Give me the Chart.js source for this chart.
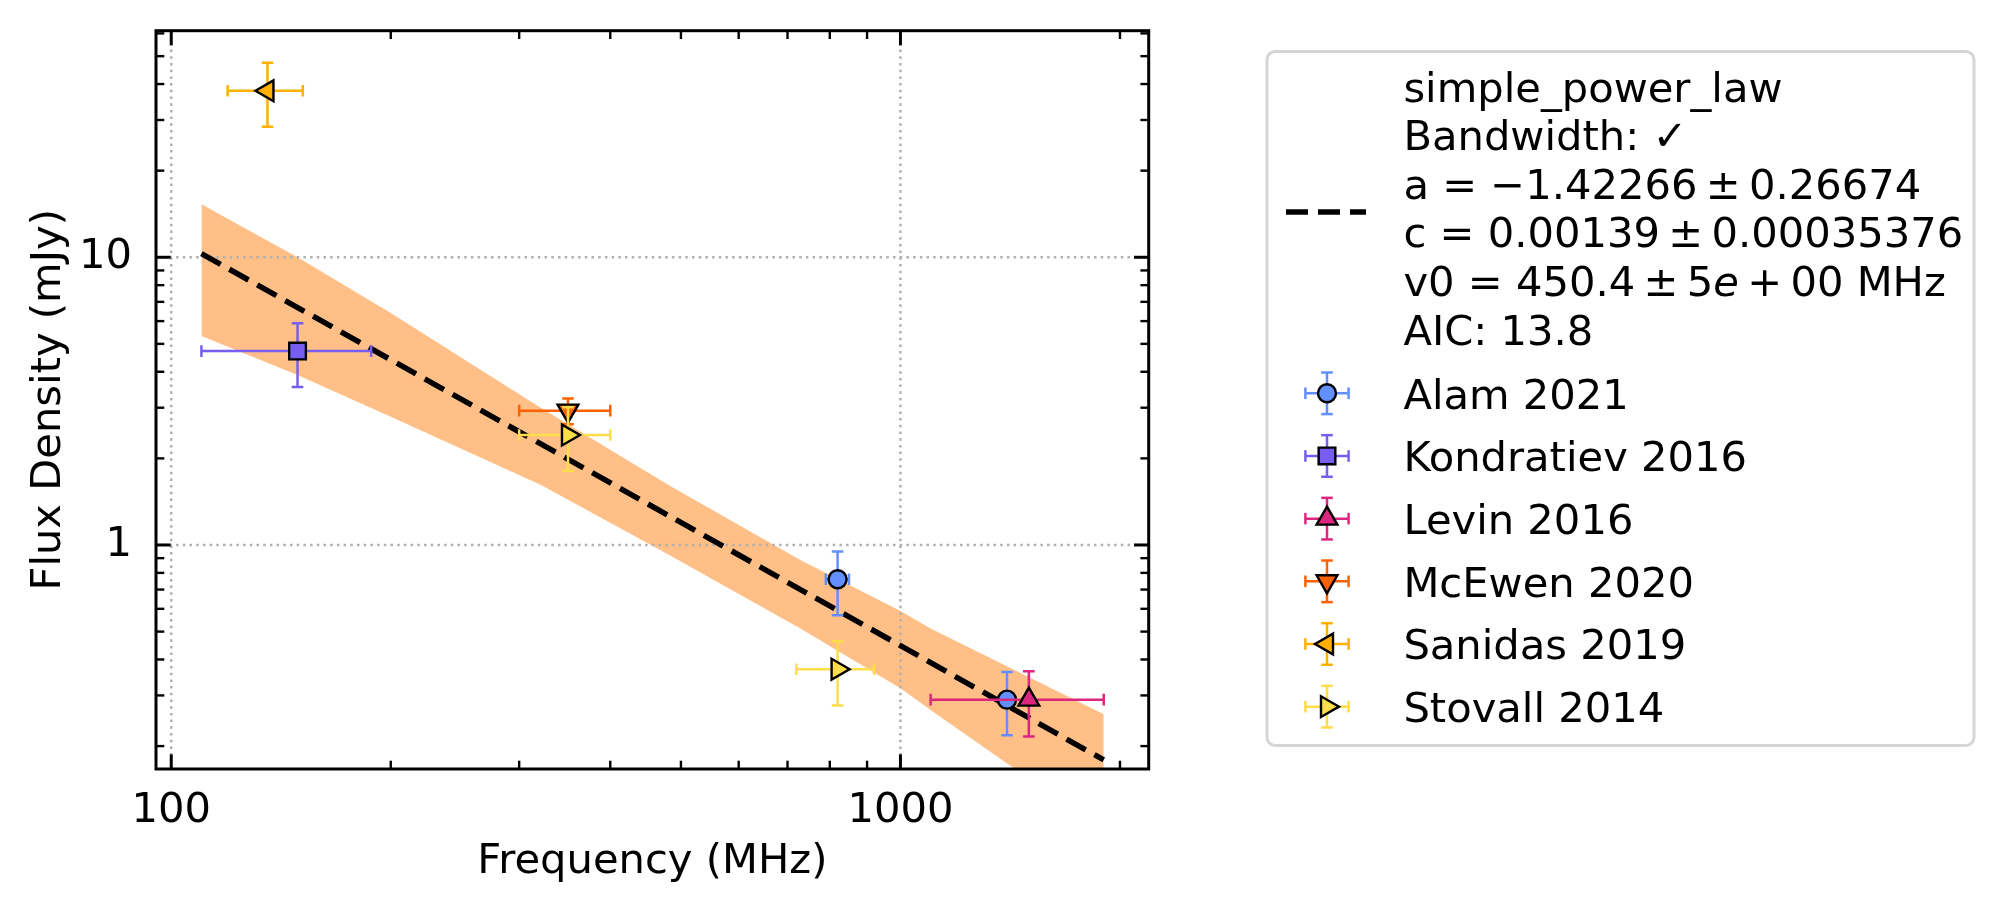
<!DOCTYPE html>
<html>
<head>
<meta charset="utf-8">
<title>Flux density spectrum</title>
<script src="https://cdn.jsdelivr.net/npm/chart.js@4.4.1/dist/chart.umd.min.js"></script>
<style>
  html, body { margin: 0; padding: 0; background: #fff; }
  canvas { display: block; }
</style>
</head>
<body>
<canvas id="spectrum" width="2006" height="914"></canvas>
<script>
const alamFreq = [820, 1400];
const alamFreqErr = [30, 0];
const alamFlux = [0.76, 0.29];
const alamFluxErr = [0.19, 0.072];

const kondratievFreq = [149];
const kondratievFreqErr = [39];
const kondratievFlux = [4.72];
const kondratievFluxErr = [1.18];

const levinFreq = [1500];
const levinFreqErr = [400];
const levinFlux = [0.29];
const levinFluxErr = [0.074];

const mcewenFreq = [350];
const mcewenFreqErr = [50];
const mcewenFlux = [2.93];
const mcewenFluxErr = [0.3];

const sanidasFreq = [135.5];
const sanidasFreqErr = [16];
const sanidasFlux = [37.9];
const sanidasFluxErr = [9.5];

const stovallFreq = [350, 820];
const stovallFreqErr = [50, 100];
const stovallFlux = [2.41, 0.37];
const stovallFluxErr = [0.6, 0.093];

// fitted power law (dashed) and its uncertainty band
const fitFreq = [110, 1000, 1900];
const fitFlux = [10.3, 0.447, 0.179];
const bandFreq = [110, 149, 200, 321, 484, 729, 1000, 1100, 1438, 1900];
const bandUpper = [15.3, 10.0, 6.40, 3.0, 1.60, 0.887, 0.590, 0.513, 0.366, 0.258];
const bandLower = [5.33, 3.9, 2.79, 1.62, 0.917, 0.513, 0.318, 0.267, 0.166, 0.10];

// legend text of the fit; odd pieces of a line are set in italic (mathtext)
const fitText = [
  ['simple_power_law'],
  ['Bandwidth: \u2713'],
  ['a = \u22121.42266\u2009\u00b1\u20090.26674'],
  ['c = 0.00139\u2009\u00b1\u20090.00035376'],
  ['v0 = 450.4\u2009\u00b1\u20095', 'e', '\u2009+\u200900 MHz'],
  ['AIC: 13.8']
];

// axis ticks
const xTicks = [100, 200, 300, 400, 500, 600, 700, 800, 900, 1000, 2000];
const xMajor = [100, 1000];
const yTicks = [0.2, 0.3, 0.4, 0.5, 0.6, 0.7, 0.8, 0.9, 1, 2, 3, 4, 5, 6, 7, 8, 9, 10, 20, 30, 40, 50, 60];
const yMajor = [1, 10];

const FONT_SIZE = 41.67;
const FONT = FONT_SIZE + 'px "DejaVu Sans"';
const FONT_IT = 'oblique ' + FONT;
const ERR_W = 2.5;
const CAP = 5.8;

Chart.defaults.font.family = '"DejaVu Sans", sans-serif';
Chart.defaults.font.size = FONT_SIZE;
Chart.defaults.color = '#000';

function xy(xs, ys) {
  return xs.map((v, i) => ({ x: v, y: ys[i] }));
}

function withErrors(freq, freqErr, flux, fluxErr) {
  return freq.map((f, i) => ({ x: f, y: flux[i], xErr: freqErr[i], yErr: fluxErr[i] }));
}

const sources = [
  { label: 'Alam 2021', data: withErrors(alamFreq, alamFreqErr, alamFlux, alamFluxErr), color: '#648FFF', style: 'circle', r: 9, rot: 0 },
  { label: 'Kondratiev 2016', data: withErrors(kondratievFreq, kondratievFreqErr, kondratievFlux, kondratievFluxErr), color: '#785EF0', style: 'rect', r: 11.8, rot: 0 },
  { label: 'Levin 2016', data: withErrors(levinFreq, levinFreqErr, levinFlux, levinFluxErr), color: '#DC267F', style: 'triangle', r: 12, rot: 0 },
  { label: 'McEwen 2020', data: withErrors(mcewenFreq, mcewenFreqErr, mcewenFlux, mcewenFluxErr), color: '#FE6100', style: 'triangle', r: 12, rot: 180 },
  { label: 'Sanidas 2019', data: withErrors(sanidasFreq, sanidasFreqErr, sanidasFlux, sanidasFluxErr), color: '#FFB000', style: 'triangle', r: 12, rot: 270 },
  { label: 'Stovall 2014', data: withErrors(stovallFreq, stovallFreqErr, stovallFlux, stovallFluxErr), color: '#FDDE4A', style: 'triangle', r: 12, rot: 90 }
];

const datasets = [
  {
    label: 'band upper', data: xy(bandFreq, bandUpper), showLine: true,
    borderColor: 'rgba(0,0,0,0)', borderWidth: 0, pointRadius: 0, fill: false, order: 21
  },
  {
    label: 'band lower', data: xy(bandFreq, bandLower), showLine: true,
    borderColor: 'rgba(0,0,0,0)', borderWidth: 0, pointRadius: 0,
    fill: '-1', backgroundColor: 'rgba(255,127,14,0.5)', order: 20
  },
  {
    label: 'simple_power_law', data: xy(fitFreq, fitFlux), showLine: true, isFit: true,
    borderColor: '#000', borderWidth: 5.5, borderDash: [22, 10], pointRadius: 0, fill: false, order: 10
  }
].concat(sources.map((s, i) => ({
  label: s.label, data: s.data, showLine: false, errors: true,
  pointStyle: s.style, pointRadius: s.r, pointRotation: s.rot,
  pointBackgroundColor: s.color, pointBorderColor: '#000', pointBorderWidth: 2.4,
  pointHoverRadius: s.r, order: sources.length - 1 - i
})));

function line(ctx, x1, y1, x2, y2) {
  ctx.beginPath();
  ctx.moveTo(x1, y1);
  ctx.lineTo(x2, y2);
  ctx.stroke();
}

function errorCross(ctx, cx, cy, left, right, top, bottom) {
  if (right > left) {
    line(ctx, left, cy, right, cy);
    line(ctx, left, cy - CAP, left, cy + CAP);
    line(ctx, right, cy - CAP, right, cy + CAP);
  }
  if (bottom > top) {
    line(ctx, cx, top, cx, bottom);
    line(ctx, cx - CAP, top, cx + CAP, top);
    line(ctx, cx - CAP, bottom, cx + CAP, bottom);
  }
}

function drawGrid(chart) {
  const { ctx, chartArea: a, scales: { x, y } } = chart;
  ctx.save();
  ctx.strokeStyle = '#b0b0b0';
  ctx.lineWidth = 2.5;
  ctx.setLineDash([2.5, 4.2]);
  xMajor.forEach(v => {
    const px = x.getPixelForValue(v);
    line(ctx, px, a.bottom, px, a.top);
  });
  yMajor.forEach(v => {
    const py = y.getPixelForValue(v);
    line(ctx, a.left, py, a.right, py);
  });
  ctx.restore();
}

// grid above the band, error bars under each marker set
const layers = {
  id: 'layers',
  beforeDatasetDraw(chart, args) {
    const ds = chart.data.datasets[args.index];
    if (ds.isFit) drawGrid(chart);
    if (!ds.errors) return;
    const { ctx, chartArea: a, scales: { x, y } } = chart;
    ctx.save();
    ctx.beginPath();
    ctx.rect(a.left, a.top, a.right - a.left, a.bottom - a.top);
    ctx.clip();
    ctx.strokeStyle = ds.pointBackgroundColor;
    ctx.lineWidth = ERR_W;
    ds.data.forEach(p => {
      const cx = x.getPixelForValue(p.x);
      const cy = y.getPixelForValue(p.y);
      const l = p.xErr ? x.getPixelForValue(p.x - p.xErr) : cx;
      const r = p.xErr ? x.getPixelForValue(p.x + p.xErr) : cx;
      const t = y.getPixelForValue(p.y + p.yErr);
      const b = y.getPixelForValue(p.y - p.yErr);
      errorCross(ctx, cx, cy, l, r, t, b);
    });
    ctx.restore();
  }
};

// box round the plot with inward ticks on all four sides
const frame = {
  id: 'frame',
  afterDatasetsDraw(chart) {
    const { ctx, chartArea: a, scales: { x, y } } = chart;
    ctx.save();
    ctx.strokeStyle = '#000';
    xTicks.forEach(v => {
      const px = x.getPixelForValue(v);
      const major = xMajor.includes(v);
      const len = major ? 14.6 : 8.3;
      ctx.lineWidth = major ? 3 : 2.4;
      line(ctx, px, a.bottom, px, a.bottom - len);
      line(ctx, px, a.top, px, a.top + len);
    });
    yTicks.forEach(v => {
      const py = y.getPixelForValue(v);
      const major = yMajor.includes(v);
      const len = major ? 14.6 : 8.3;
      ctx.lineWidth = major ? 3 : 2.4;
      line(ctx, a.left, py, a.left + len, py);
      line(ctx, a.right, py, a.right - len, py);
    });
    ctx.lineWidth = 3;
    ctx.strokeRect(a.left, a.top, a.right - a.left, a.bottom - a.top);
    ctx.restore();
  }
};

function roundRect(ctx, x, y, w, h, r) {
  ctx.beginPath();
  ctx.moveTo(x + r, y);
  ctx.lineTo(x + w - r, y);
  ctx.arcTo(x + w, y, x + w, y + r, r);
  ctx.lineTo(x + w, y + h - r);
  ctx.arcTo(x + w, y + h, x + w - r, y + h, r);
  ctx.lineTo(x + r, y + h);
  ctx.arcTo(x, y + h, x, y + h - r, r);
  ctx.lineTo(x, y + r);
  ctx.arcTo(x, y, x + r, y, r);
  ctx.closePath();
}

// legend outside the axes, matplotlib style
const legendBox = {
  id: 'legendBox',
  afterDraw(chart) {
    const ctx = chart.ctx;
    const textX = 1403.4;
    const handleX = 1327;
    ctx.save();
    roundRect(ctx, 1267, 51.5, 707, 694, 8.3);
    ctx.fillStyle = 'rgba(255,255,255,0.8)';
    ctx.fill();
    ctx.strokeStyle = '#d6d6d6';
    ctx.lineWidth = 3;
    ctx.stroke();

    ctx.textAlign = 'left';
    ctx.textBaseline = 'alphabetic';

    const fit = chart.data.datasets.find(d => d.isFit);
    ctx.strokeStyle = fit.borderColor;
    ctx.lineWidth = fit.borderWidth;
    ctx.setLineDash(fit.borderDash);
    line(ctx, 1286, 212, 1366, 212);
    ctx.setLineDash([]);
    ctx.fillStyle = '#000';
    fitText.forEach((pieces, i) => {
      let tx = textX;
      pieces.forEach((t, k) => {
        ctx.font = k % 2 ? FONT_IT : FONT;
        ctx.fillText(t, tx, 101.5 + i * 48.6);
        tx += ctx.measureText(t).width;
      });
    });

    ctx.font = FONT;
    chart.data.datasets.filter(d => d.errors).forEach((d, i) => {
      const cy = 393.3 + i * 62.67;
      ctx.strokeStyle = d.pointBackgroundColor;
      ctx.lineWidth = ERR_W;
      errorCross(ctx, handleX, cy, handleX - 21.6, handleX + 21.6, cy - 20.8, cy + 20.8);
      ctx.fillStyle = d.pointBackgroundColor;
      ctx.strokeStyle = d.pointBorderColor;
      ctx.lineWidth = d.pointBorderWidth;
      Chart.helpers.drawPoint(ctx, {
        pointStyle: d.pointStyle, radius: d.pointRadius,
        rotation: d.pointRotation, borderWidth: d.pointBorderWidth
      }, handleX, cy);
      ctx.fillStyle = '#000';
      ctx.fillText(d.label, textX, cy + 15.2);
    });
    ctx.restore();
  }
};

new Chart(document.getElementById('spectrum'), {
  type: 'scatter',
  data: { datasets: datasets },
  options: {
    responsive: false,
    animation: false,
    devicePixelRatio: 1,
    layout: { padding: { top: 30.7, right: 857.3, bottom: 0, left: 0 } },
    plugins: { legend: { display: false }, tooltip: { enabled: false } },
    scales: {
      x: {
        type: 'logarithmic',
        min: 95.3,
        max: 2190,
        afterBuildTicks: s => { s.ticks = xTicks.map(v => ({ value: v })); },
        afterFit: s => { s.height = 145; s.paddingLeft = 0; s.paddingRight = 0; },
        ticks: {
          autoSkip: false, maxRotation: 0, minRotation: 0, padding: 9.5,
          callback: v => xMajor.includes(v) ? String(v) : ''
        },
        grid: { display: false },
        border: { display: false },
        title: { display: true, text: 'Frequency (MHz)', padding: { top: 0, bottom: 26.5 } }
      },
      y: {
        type: 'logarithmic',
        min: 0.1665,
        max: 61.3,
        afterBuildTicks: s => { s.ticks = yTicks.map(v => ({ value: v })); },
        afterFit: s => { s.width = 156; s.paddingTop = 0; s.paddingBottom = 0; },
        ticks: {
          autoSkip: false, padding: 16,
          callback: v => yMajor.includes(v) ? String(v) : ''
        },
        grid: { display: false },
        border: { display: false },
        title: { display: true, text: 'Flux Density (mJy)', padding: { top: 24.2, bottom: 0 } }
      }
    }
  },
  plugins: [layers, frame, legendBox]
});
</script>
</body>
</html>
